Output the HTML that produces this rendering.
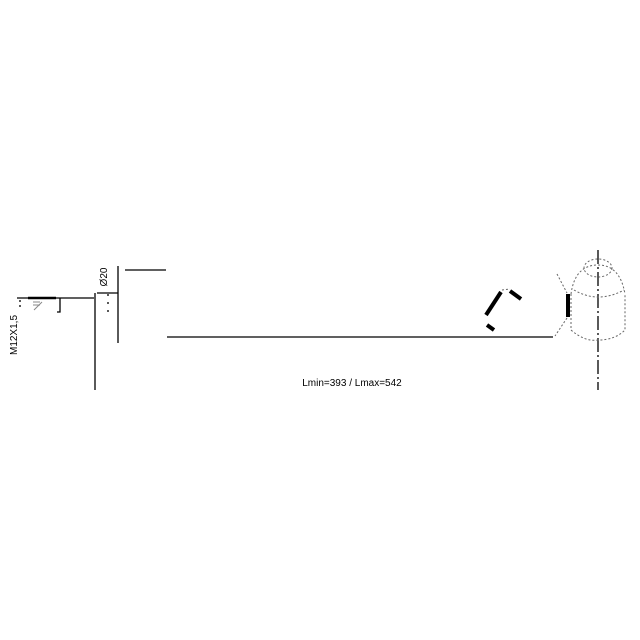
<!DOCTYPE html>
<html><head><meta charset="utf-8"><style>html,body{margin:0;padding:0;background:#fff}svg{display:block}</style></head><body>
<svg width="640" height="640" viewBox="0 0 640 640" xmlns="http://www.w3.org/2000/svg">
<g stroke="#000" fill="none" stroke-width="1.3">
<line x1="17" y1="298" x2="94" y2="298"/>
<line x1="28" y1="298" x2="56" y2="298" stroke-width="2.5"/>
<polyline points="60,298 60,312 57,312"/>
<line x1="95" y1="293" x2="95" y2="390"/>
<line x1="97" y1="293" x2="118" y2="293"/>
<line x1="118" y1="266" x2="118" y2="343"/>
<line x1="125" y1="270" x2="166" y2="270"/>
<line x1="167" y1="337" x2="553" y2="337"/>
<line x1="20" y1="300" x2="20" y2="310" stroke-dasharray="2,3"/>
<line x1="108" y1="294" x2="108" y2="316" stroke-dasharray="2,6"/>
<g stroke="#888" stroke-width="1"><line x1="33" y1="302" x2="40" y2="302"/><line x1="33" y1="305" x2="40" y2="305"/><line x1="34" y1="310" x2="42" y2="302"/></g>
<line x1="598" y1="250" x2="598" y2="390" stroke-dasharray="14,3,2,3"/>
<line x1="568" y1="294" x2="568" y2="317" stroke-width="4"/>
<line x1="486" y1="315" x2="501" y2="292" stroke-width="4"/>
<line x1="510" y1="291" x2="521" y2="299" stroke-width="4"/>
<line x1="487" y1="325" x2="494" y2="330" stroke-width="4"/>
<g stroke="#666" stroke-width="1" stroke-dasharray="2,2">
<path d="M557,274 L567,293 M567,318 L555,336"/>
<path d="M571,294 Q575,265 598,265 Q620,265 625,294"/>
<path d="M571,294 L571,330 Q585,342 598,340 Q615,340 625,330 L625,294"/>
<ellipse cx="598" cy="268" rx="14" ry="9"/>
<path d="M574,290 Q598,304 624,290"/>
<path d="M502,290 L510,289"/>
</g>
</g>
<g font-family="Liberation Sans, sans-serif" font-size="10" fill="#000">
<text x="352" y="386" text-anchor="middle">Lmin=393 / Lmax=542</text>
<text transform="translate(107,277) rotate(-90)" text-anchor="middle">Ø20</text>
<text transform="translate(17,335) rotate(-90)" text-anchor="middle">M12X1,5</text>
</g>
</svg>
</body></html>
